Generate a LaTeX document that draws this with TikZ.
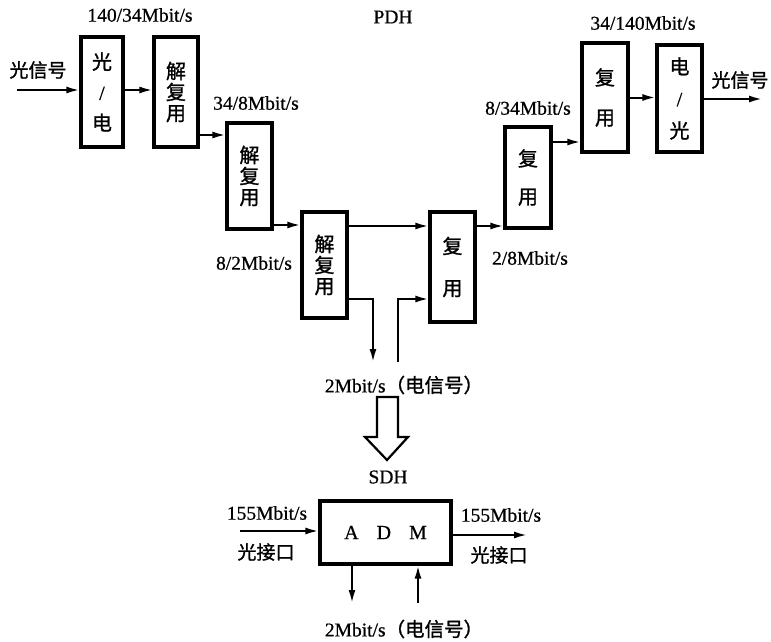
\documentclass[tikz,border=0pt]{standalone}
\usepackage{fontspec}
\setmainfont{Liberation Serif}[FakeBold=0.6]
\newfontfamily\cjk{Noto Sans CJK SC}[FakeBold=1.2]
\usetikzlibrary{arrows.meta,calc}
\begin{document}
\begin{tikzpicture}[x=1pt,y=-1pt,
  box/.style={draw,line width=3.2pt,inner sep=0pt,align=center},
  lbl/.style={inner sep=0pt,font=\fontsize{19.5}{22}\selectfont},
  clbl/.style={inner sep=0pt,font=\cjk\fontsize{19}{22}\selectfont},
  arr/.style={line width=2pt,-{Latex[length=13pt,width=7pt]}},
  ln/.style={line width=2pt}]
\useasboundingbox (0,0) rectangle (771,642);
% boxes
\node[box,minimum width=42pt,minimum height=110pt,font=\cjk\fontsize{20}{30.5}\selectfont] (b1) at (102,92) {光\\{\rmfamily /}\\电};
\node[box,minimum width=44pt,minimum height=110pt,font=\cjk\fontsize{20}{21}\selectfont] (b2) at (176,92) {解\\复\\用};
\node[box,minimum width=45pt,minimum height=106pt,font=\cjk\fontsize{20}{21}\selectfont] (b3) at (249.5,176) {解\\复\\用};
\node[box,minimum width=45pt,minimum height=106pt,font=\cjk\fontsize{20}{21}\selectfont] (b4) at (324.5,265) {解\\复\\用};
\node[box,minimum width=45pt,minimum height=110pt,font=\cjk\fontsize{20}{42}\selectfont] (b5) at (452.5,267) {复\\用};
\node[box,minimum width=46pt,minimum height=101pt,font=\cjk\fontsize{20}{38}\selectfont] (b6) at (528,177.5) {复\\用};
\node[box,minimum width=46pt,minimum height=109pt,font=\cjk\fontsize{20}{40}\selectfont] (b7) at (605,97.5) {复\\用};
\node[box,minimum width=45pt,minimum height=107pt,font=\cjk\fontsize{20}{32}\selectfont] (b8) at (679.5,98.5) {电\\{\rmfamily /}\\光};
\node[box,minimum width=131pt,minimum height=63pt,font=\fontsize{20}{22}\selectfont] (adm) at (385.5,532.5) {A\hspace{18pt}D\hspace{18pt}M};
% labels
\node[clbl] (tin) at (38,70) {光信号};
\node[lbl] (t1) at (140,15) {140/34Mbit/s};
\node[lbl] (t2) at (256,103) {34/8Mbit/s};
\node[lbl] (t3) at (254,263) {8/2Mbit/s};
\node[lbl] (pdh) at (393,17) {PDH};
\node[lbl] (t4) at (530,258) {2/8Mbit/s};
\node[lbl] (t5) at (528,108) {8/34Mbit/s};
\node[lbl] (t6) at (643,23) {34/140Mbit/s};
\node[clbl] (tout) at (740,80) {光信号};
\node[lbl] (mid) at (404,385) {2Mbit/s{\cjk （电信号）}};
\node[lbl] (sdh) at (388,477) {SDH};
\node[lbl] (r1) at (267,513) {155Mbit/s};
\node[clbl] (r1c) at (266,552) {光接口};
\node[lbl] (r2) at (501,515) {155Mbit/s};
\node[clbl] (r2c) at (499,555) {光接口};
\node[lbl] (bot) at (404,629) {2Mbit/s{\cjk （电信号）}};
% connectors
\coordinate (inL) at (17,90);
\draw[arr] (inL) -- (inL -| b1.west);
\draw[arr] (b1.east |- inL) -- (b2.west |- inL);
\coordinate (l2) at ($(b2.east)+(0,43)$);
\draw[arr] (l2) -- (l2 -| b3.west);
\coordinate (l3) at ($(b3.east)+(0,49)$);
\draw[arr] (l3) -- (l3 -| b4.west);
\coordinate (l4) at ($(b4.east)+(0,-39)$);
\draw[arr] (l4) -- (l4 -| b5.west);
\coordinate (l5) at ($(b4.east)+(0,34)$);
\coordinate (dn) at (373,362);
\draw[arr] (l5) -| (dn);
\coordinate (up) at (398,362);
\draw[arr] (up) |- ($(b5.west)+(0,32)$);
\coordinate (l6) at ($(b5.east)+(0,-41)$);
\draw[arr] (l6) -- (l6 -| b6.west);
\coordinate (l7) at ($(b6.east)+(0,-35.5)$);
\draw[arr] (l7) -- (l7 -| b7.west);
\draw[arr] (b7.east) -- (b7.east -| b8.west);
\coordinate (outR) at (762,99);
\draw[arr] (b8.east |- outR) -- (outR);
% hollow arrow
\draw[line width=2.2pt,line join=miter] (377,397) -- (398,397) -- (398,437) -- (408,437) -- (387,460) -- (365,437) -- (377,437) -- cycle;
% ADM connectors
\coordinate (adin) at (240,531);
\draw[arr] (adin) -- (adin -| adm.west);
\coordinate (adout) at (527,535);
\draw[arr] (adm.east |- adout) -- (adout);
\coordinate (bd) at (352,603);
\draw[arr] (adm.south -| bd) -- (bd);
\coordinate (bu) at (418,603);
\draw[arr] (bu) -- (bu |- adm.south);
\end{tikzpicture}
\end{document}
